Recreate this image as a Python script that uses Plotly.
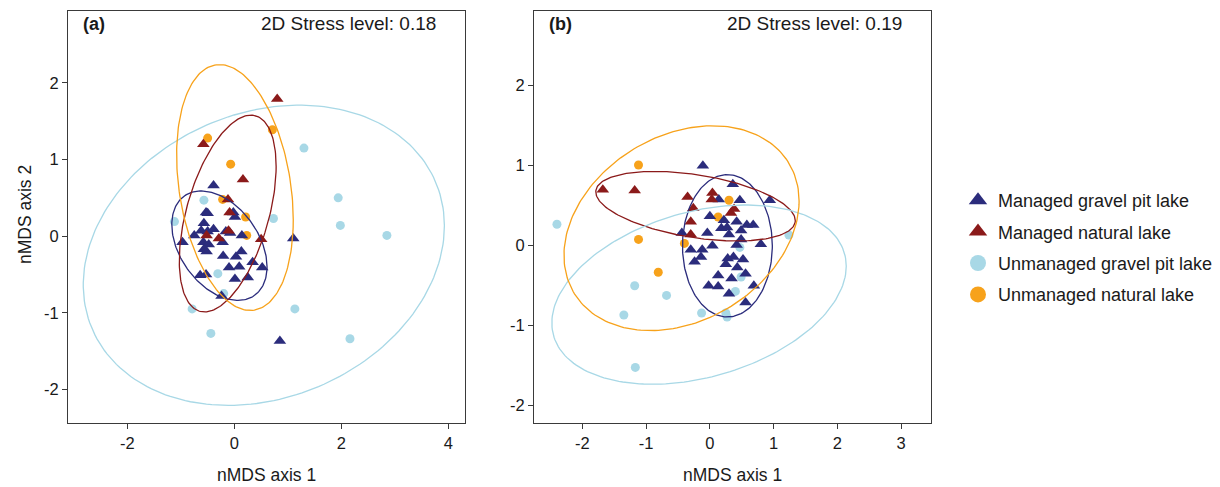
import numpy as np
import plotly.graph_objects as go

# ---------------- data ----------------
groups = ["Managed gravel pit lake", "Managed natural lake",
          "Unmanaged gravel pit lake", "Unmanaged natural lake"]
colors = ["#2B2C7C", "#8B1A1A", "#A8D8E6", "#F7A21B"]
symbols = ["triangle-up", "triangle-up", "circle", "circle"]

# Panel (a)
a_mgp_x = [-0.39, -0.53, -0.50, -0.02, 0.01, -0.57, -0.62, -0.75, -0.97, -0.50, -0.39,
           -0.58, -0.48, -0.57, -0.52, -0.08, -0.16, -0.22, 0.14, -0.21, 0.03, 0.13,
           -0.10, 0.09, 0.34, 0.52, 0.01, 0.25, -0.64, -0.53, -0.24, 1.10, 0.85]
a_mgp_y = [0.66, 0.31, 0.30, 0.31, 0.25, 0.17, 0.07, 0.01, -0.08, 0.06, 0.09,
           -0.08, -0.11, -0.17, -0.20, 0.04, 0.06, -0.08, 0.01, -0.26, -0.27, -0.20,
           -0.41, -0.40, -0.34, -0.41, -0.56, -0.54, -0.51, -0.50, -0.78, -0.03, -1.37]
a_mnl_x = [0.80, -0.58, 0.16, -0.12, -0.09, -0.29, -0.11, 0.50, -0.52]
a_mnl_y = [1.79, 1.20, 0.74, 0.48, 0.31, -0.03, 0.07, -0.04, 0.01]
a_ugp_x = [1.30, 1.94, 1.98, 2.85, 0.73, -0.57, -1.12, -0.31, -0.20, -0.79, 1.13, -0.44, 2.16]
a_ugp_y = [1.15, 0.50, 0.14, 0.01, 0.23, 0.47, 0.19, -0.49, -0.75, -0.95, -0.95, -1.27, -1.34]
a_unl_x = [-0.50, 0.71, -0.07, -0.22, 0.21, 0.23]
a_unl_y = [1.28, 1.39, 0.94, 0.48, 0.25, 0.01]

# Panel (b)
b_mgp_x = [-0.11, 0.36, 0.14, 0.47, 0.94, 0.00, 0.22, 0.42, 0.18, 0.27, 0.30, 0.58,
           0.68, 0.49, -0.04, -0.44, 0.49, 0.42, 0.80, 0.04, -0.30, -0.12, -0.14,
           -0.24, 0.28, 0.37, 0.52, 0.25, 0.43, 0.13, 0.34, 0.56, -0.02, 0.13, 0.69,
           0.30, 0.56]
b_mgp_y = [0.99, 0.76, 0.57, 0.56, 0.56, 0.36, 0.31, 0.29, 0.21, 0.22, 0.13, 0.25,
           0.25, 0.18, 0.15, 0.15, 0.07, 0.00, 0.01, -0.01, -0.06, -0.06, -0.15,
           -0.21, -0.17, -0.15, -0.18, -0.24, -0.28, -0.38, -0.42, -0.36, -0.51, -0.52,
           -0.51, -0.61, -0.72]
b_mnl_x = [-1.68, -1.18, -0.35, 0.04, 0.03, -0.26, -0.30, -0.30, 0.33, 0.38]
b_mnl_y = [0.69, 0.68, 0.60, 0.65, 0.57, 0.46, 0.29, 0.13, 0.40, 0.45]
b_ugp_x = [-2.40, 1.24, 0.47, -1.18, -0.68, -1.35, -0.13, 0.25, 0.27, 0.40, 0.49, -1.17]
b_ugp_y = [0.26, 0.125, -0.03, -0.51, -0.63, -0.875, -0.85, -0.85, -0.90, -0.58, -0.40, -1.53]
b_unl_x = [-1.12, 0.30, 0.13, -1.12, -0.40, -0.81]
b_unl_y = [1.00, 0.56, 0.35, 0.07, 0.02, -0.34]

# Ellipse parameters per group: centre x, centre y, sd x, sd y, covariance
a_ell_cx = [-0.28, -0.125, 0.55, 0.01]
a_ell_cy = [-0.125, 0.295, -0.25, 0.635]
a_ell_sx = [0.89, 0.905, 3.375, 1.09]
a_ell_sy = [0.715, 1.285, 1.96, 1.605]
a_ell_cov = [-0.245, 0.557, 1.30, -0.46]

b_ell_cx = [0.275, -0.225, -0.17, -0.445]
b_ell_cy = [-0.01, 0.485, -0.62, 0.21]
b_ell_sx = [0.705, 1.565, 2.31, 1.845]
b_ell_sy = [0.89, 0.435, 1.12, 1.28]
b_ell_cov = [0.0, -0.28, 0.82, 0.627]

panel_labels = ["(a)", "(b)"]
stress_labels = ["2D Stress level: 0.18", "2D Stress level: 0.19"]
x_tick_a = [-2, 0, 2, 4]
x_tick_b = [-2, -1, 0, 1, 2, 3]
y_tick_a = [-2, -1, 0, 1, 2]
y_tick_b = [-2, -1, 0, 1, 2]

# ---------------- figure ----------------
FONT = "Liberation Sans, Arial, sans-serif"
W, H = 1220, 487
fig = go.Figure()


def ellipse(cx, cy, sx, sy, cov, n=200):
    S = np.array([[sx ** 2, cov], [cov, sy ** 2]])
    L = np.linalg.cholesky(S)
    t = np.linspace(0, 2 * np.pi, n)
    pts = L @ np.vstack([np.cos(t), np.sin(t)])
    return cx + pts[0], cy + pts[1]


panels = [
    ("x", "y", [(a_mgp_x, a_mgp_y), (a_mnl_x, a_mnl_y), (a_ugp_x, a_ugp_y), (a_unl_x, a_unl_y)],
     (a_ell_cx, a_ell_cy, a_ell_sx, a_ell_sy, a_ell_cov)),
    ("x2", "y2", [(b_mgp_x, b_mgp_y), (b_mnl_x, b_mnl_y), (b_ugp_x, b_ugp_y), (b_unl_x, b_unl_y)],
     (b_ell_cx, b_ell_cy, b_ell_sx, b_ell_sy, b_ell_cov)),
]

draw_order = [2, 3, 0, 1]
for xa, ya, pts, ell in panels:
    for g in draw_order:
        xs, ys = pts[g]
        fig.add_trace(go.Scatter(
            x=xs, y=ys, mode="markers", xaxis=xa, yaxis=ya, showlegend=False,
            marker=dict(symbol=symbols[g], color=colors[g],
                        size=11 if symbols[g] == "triangle-up" else 9,
                        line=dict(width=0)),
            hoverinfo="skip"))
    for g in range(4):
        ex, ey = ellipse(ell[0][g], ell[1][g], ell[2][g], ell[3][g], ell[4][g])
        fig.add_trace(go.Scatter(
            x=ex, y=ey, mode="lines", xaxis=xa, yaxis=ya, showlegend=False,
            line=dict(color=colors[g], width=1.3), hoverinfo="skip"))

# legend entries
for g in range(4):
    fig.add_trace(go.Scatter(
        x=[None], y=[None], mode="markers", name=groups[g], legendgroup=groups[g],
        marker=dict(symbol=symbols[g], color=colors[g], size=16, line=dict(width=0))))

x0a, x1a = 68, 465
x0b, x1b = 534, 931
yt, yb = 11, 423

axis_common = dict(showgrid=False, zeroline=False, showline=True, mirror=True,
                   linecolor="#3a3a3a", linewidth=1, ticks="outside", ticklen=5,
                   tickcolor="#3a3a3a", tickwidth=1,
                   tickfont=dict(family=FONT, size=16.5, color="#1a1a1a"),
                   automargin=False)

fig.update_layout(
    width=W, height=H,
    margin=dict(l=0, r=0, t=0, b=0),
    paper_bgcolor="white", plot_bgcolor="white",
    font=dict(family=FONT, color="#1a1a1a"),
    xaxis=dict(domain=[x0a / W, x1a / W], range=[-3.11, 4.31], tickvals=x_tick_a,
               ticktext=[str(v) for v in x_tick_a], anchor="y", **axis_common),
    yaxis=dict(domain=[1 - yb / H, 1 - yt / H], range=[-2.44, 2.94], tickvals=y_tick_a,
               ticktext=[str(v) for v in y_tick_a], anchor="x", **axis_common),
    xaxis2=dict(domain=[x0b / W, x1b / W], range=[-2.76, 3.47], tickvals=x_tick_b,
                ticktext=[str(v) for v in x_tick_b], anchor="y2", **axis_common),
    yaxis2=dict(domain=[1 - yb / H, 1 - yt / H], range=[-2.225, 2.925], tickvals=y_tick_b,
                ticktext=[str(v) for v in y_tick_b], anchor="x2", **axis_common),
    legend=dict(x=958 / W, y=1 - 182 / H, xanchor="left", yanchor="top",
                font=dict(family=FONT, size=18, color="#1a1a1a"),
                tracegroupgap=5, itemsizing="trace", bgcolor="rgba(0,0,0,0)"),
)

ann = []
for i, (xl, xr) in enumerate([(x0a, x1a), (x0b, x1b)]):
    ann.append(dict(text="<b>" + panel_labels[i] + "</b>", x=(xl + 13) / W, y=1 - 24 / H,
                    xref="paper", yref="paper", xanchor="left", yanchor="middle",
                    showarrow=False, font=dict(family=FONT, size=18, color="#1a1a1a")))
    ann.append(dict(text=stress_labels[i], x=(xr - 27) / W, y=1 - 24 / H,
                    xref="paper", yref="paper", xanchor="right", yanchor="middle",
                    showarrow=False, font=dict(family=FONT, size=19, color="#1a1a1a")))
    ann.append(dict(text="nMDS axis 1", x=(xl + xr) / 2 / W, y=1 - 475 / H,
                    xref="paper", yref="paper", xanchor="center", yanchor="middle",
                    showarrow=False, font=dict(family=FONT, size=17.5, color="#1a1a1a")))
ann.append(dict(text="nMDS axis 2", x=25 / W, y=1 - 214 / H, textangle=-90,
                xref="paper", yref="paper", xanchor="center", yanchor="middle",
                showarrow=False, font=dict(family=FONT, size=17.5, color="#1a1a1a")))
fig.update_layout(annotations=ann)

fig.write_html("out.html")
